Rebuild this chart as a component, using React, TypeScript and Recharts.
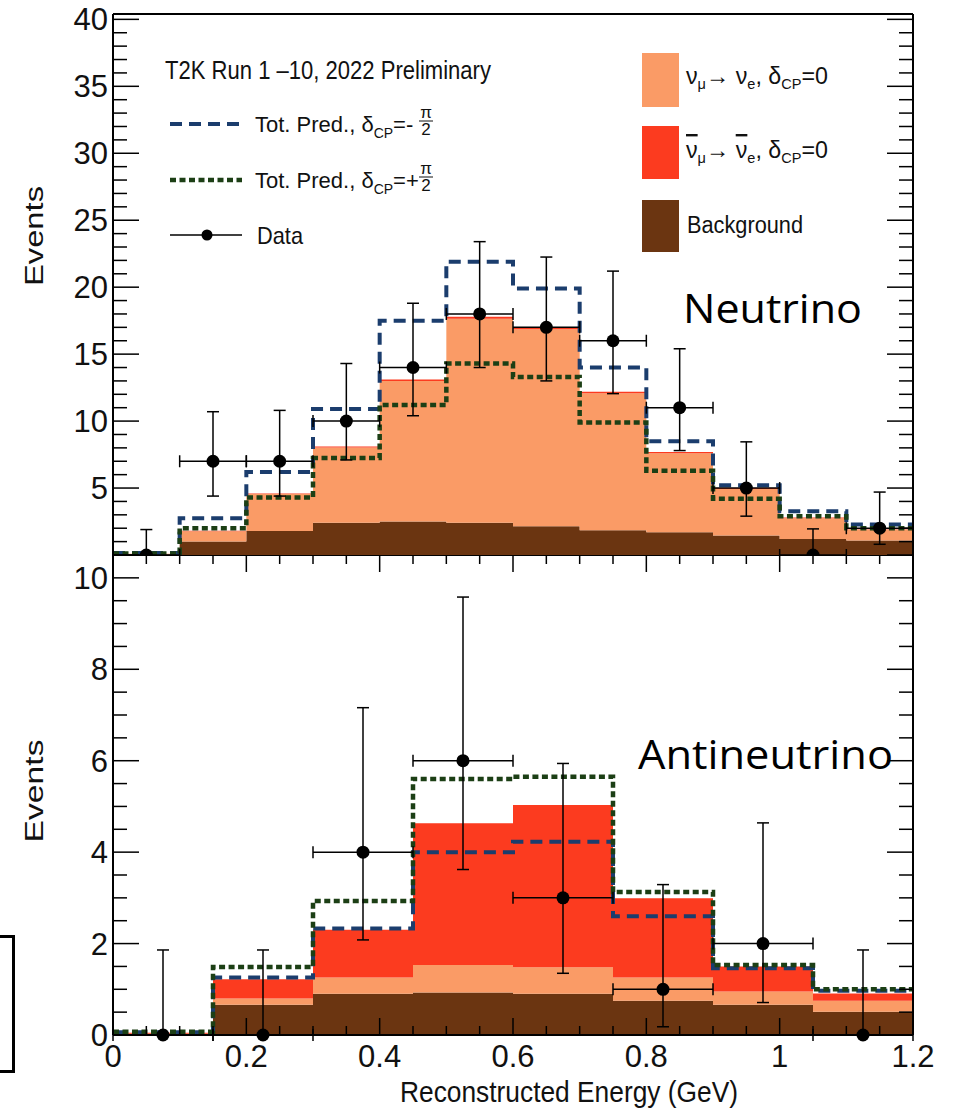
import {
  ComposedChart,
  Area,
  Line,
  Scatter,
  ErrorBar,
  XAxis,
  YAxis,
  ReferenceLine,
} from 'recharts';

const AXIS_FONT = '"Liberation Sans", Arial, Helvetica, sans-serif';
const SLIDE_FONT = '"Open Sans", "Noto Sans", sans-serif';

const COLOR_NUE = '#FA9B66';
const COLOR_NUEBAR = '#FC3B1F';
const COLOR_BKG = '#6B3511';
const COLOR_MINUS = '#1B3D6D';
const COLOR_PLUS = '#1C3F15';

// neutrino sample, 0.1 GeV bins
const NU_EDGES = [0, 0.1, 0.2, 0.3, 0.4, 0.5, 0.6, 0.7, 0.8, 0.9, 1.0, 1.1, 1.2];
const NU_CENTERS = [0.05, 0.15, 0.25, 0.35, 0.45, 0.55, 0.65, 0.75, 0.85, 0.95, 1.05, 1.15];
const NU_BKG = [0.05, 1.0, 1.8, 2.4, 2.5, 2.4, 2.15, 1.85, 1.7, 1.45, 1.2, 1.08];
const NU_NUE = [0.05, 0.78, 2.75, 5.62, 10.5, 15.25, 14.7, 10.23, 5.9, 3.47, 1.55, 0.78];
const NU_NUEBAR = [0, 0.03, 0.05, 0.08, 0.1, 0.15, 0.15, 0.12, 0.1, 0.08, 0.05, 0.04];
const NU_PRED_MINUS = [0.15, 2.75, 6.2, 10.9, 17.5, 21.9, 19.9, 14.0, 8.5, 5.2, 3.27, 2.27];
const NU_PRED_PLUS = [0.12, 2.0, 4.3, 7.25, 11.2, 14.3, 13.3, 9.9, 6.3, 4.2, 2.9, 2.0];
const NU_DATA = [0, 7, 7, 10, 14, 18, 17, 16, 11, 5, 0, 2];
const NU_DATA_HI = [1.9, 10.7, 10.8, 14.3, 18.8, 23.4, 22.25, 21.2, 15.4, 8.45, 1.95, 4.7];
const NU_DATA_LO = [0, 4.4, 4.4, 7.1, 10.4, 14.0, 13.0, 12.05, 7.8, 2.9, 0, 0.8];

// antineutrino sample, 0.15 GeV bins
const ANU_EDGES = [0, 0.15, 0.3, 0.45, 0.6, 0.75, 0.9, 1.05, 1.2];
const ANU_CENTERS = [0.075, 0.225, 0.375, 0.525, 0.675, 0.825, 0.975, 1.125];
const ANU_BKG = [0.02, 0.66, 0.9, 0.93, 0.9, 0.75, 0.66, 0.51];
const ANU_NUE = [0.01, 0.14, 0.36, 0.6, 0.58, 0.51, 0.29, 0.24];
const ANU_NUEBAR = [0.02, 0.42, 1.04, 3.1, 3.55, 1.73, 0.55, 0.16];
const ANU_PRED_MINUS = [0.06, 1.26, 2.33, 4.0, 4.23, 2.6, 1.46, 0.97];
const ANU_PRED_PLUS = [0.07, 1.49, 2.93, 5.6, 5.65, 3.13, 1.53, 1.0];
const ANU_DATA = [0, 0, 4, 6, 3, 1, 2, 0];
const ANU_DATA_HI = [1.86, 1.86, 7.16, 9.58, 5.94, 3.29, 4.64, 1.86];
const ANU_DATA_LO = [0, 0, 2.08, 3.62, 1.35, 0.18, 0.71, 0];

// axes
const X_TICKS = [
  0, 0.05, 0.1, 0.15, 0.2, 0.25, 0.3, 0.35, 0.4, 0.45, 0.5, 0.55, 0.6,
  0.65, 0.7, 0.75, 0.8, 0.85, 0.9, 0.95, 1.0, 1.05, 1.1, 1.15, 1.2,
];
const X_LABELS = ['0', '0.2', '0.4', '0.6', '0.8', '1', '1.2'];
const NU_Y_MAX = 40.4;
const NU_Y_LABELS = [5, 10, 15, 20, 25, 30, 35, 40];
const NU_Y_TICKS = Array.from({ length: 41 }, (_, i) => i);
const ANU_Y_MAX = 10.5;
const ANU_Y_LABELS = [0, 2, 4, 6, 8, 10];
const ANU_Y_TICKS = Array.from({ length: 21 }, (_, i) => i / 2);

const W = 965;
const PLOT_LEFT = 113;
const PLOT_RIGHT = 913;

const isMultiple = (v: number, step: number) =>
  Math.abs(v / step - Math.round(v / step)) < 1e-6;

function stepRows(edges: number[], series: Record<string, number[]>) {
  return edges.map((x, i) => {
    const k = Math.min(i, edges.length - 2);
    const row: Record<string, number> = { x };
    for (const key of Object.keys(series)) row[key] = series[key][k];
    return row;
  });
}

function pointRows(centers: number[], data: number[], hi: number[], lo: number[], half: number) {
  return centers.map((x, i) => ({
    x,
    y: data[i],
    ey: [data[i] - lo[i], hi[i] - data[i]],
    ex: half,
  }));
}

function xTick(plotTop: number, plotBottom: number, labels: boolean) {
  return (props: any) => {
    const x = props.x as number;
    const v = props.payload.value as number;
    const major = isMultiple(v, 0.2);
    const len = major ? 17 : 9;
    const label = X_LABELS[Math.round(v / 0.2)];
    return (
      <g>
        <line x1={x} x2={x} y1={plotBottom} y2={plotBottom - len} stroke="#000" strokeWidth={1.5} />
        <line x1={x} x2={x} y1={plotTop} y2={plotTop + len} stroke="#000" strokeWidth={1.5} />
        {labels && major && (
          <text x={x} y={plotBottom + 32} textAnchor="middle" fontSize={31} fontFamily={AXIS_FONT} fill="#111">
            {label}
          </text>
        )}
      </g>
    );
  };
}

function yTick(step: number, labels: number[]) {
  return (props: any) => {
    const y = props.y as number;
    const v = props.payload.value as number;
    const major = isMultiple(v, step);
    const len = major ? 26 : 14;
    return (
      <g>
        <line x1={PLOT_LEFT} x2={PLOT_LEFT + len} y1={y} y2={y} stroke="#000" strokeWidth={1.5} />
        <line x1={PLOT_RIGHT} x2={PLOT_RIGHT - len} y1={y} y2={y} stroke="#000" strokeWidth={1.5} />
        {labels.includes(v) && (
          <text x={PLOT_LEFT - 5} y={y + 11} textAnchor="end" fontSize={31} fontFamily={AXIS_FONT} fill="#111">
            {v}
          </text>
        )}
      </g>
    );
  };
}

const dot = (p: any) => <circle cx={p.cx} cy={p.cy} r={6.5} fill="#000" />;

interface PanelProps {
  height: number;
  plotTop: number;
  plotBottom: number;
  xAxisHeight: number;
  yMax: number;
  yTicks: number[];
  yStep: number;
  yLabels: number[];
  showXLabels: boolean;
  steps: Record<string, number>[];
  points: { x: number; y: number; ey: number[]; ex: number }[];
}

function Panel(p: PanelProps) {
  return (
    <ComposedChart
      width={W}
      height={p.height}
      data={p.steps}
      margin={{ top: p.plotTop, right: W - PLOT_RIGHT, bottom: 0, left: 0 }}
    >
      <XAxis
        dataKey="x"
        type="number"
        domain={[0, 1.2]}
        ticks={X_TICKS}
        interval={0}
        height={p.xAxisHeight}
        tickLine={false}
        axisLine={{ stroke: '#000', strokeWidth: 2 }}
        tick={xTick(p.plotTop, p.plotBottom, p.showXLabels)}
      />
      <YAxis
        type="number"
        domain={[0, p.yMax]}
        ticks={p.yTicks}
        interval={0}
        width={PLOT_LEFT}
        tickLine={false}
        axisLine={{ stroke: '#000', strokeWidth: 2 }}
        tick={yTick(p.yStep, p.yLabels)}
      />
      <Area type="stepAfter" dataKey="bkg" stackId="s" stroke="none" fill={COLOR_BKG} fillOpacity={1} isAnimationActive={false} />
      <Area type="stepAfter" dataKey="nue" stackId="s" stroke="none" fill={COLOR_NUE} fillOpacity={1} isAnimationActive={false} />
      <Area type="stepAfter" dataKey="nuebar" stackId="s" stroke="none" fill={COLOR_NUEBAR} fillOpacity={1} isAnimationActive={false} />
      <Line type="stepAfter" dataKey="minus" stroke={COLOR_MINUS} strokeWidth={4} strokeDasharray="12 7" dot={false} isAnimationActive={false} />
      <Line type="stepAfter" dataKey="plus" stroke={COLOR_PLUS} strokeWidth={4.5} strokeDasharray="6 3.5" dot={false} isAnimationActive={false} />
      <ReferenceLine y={p.yMax} stroke="#000" strokeWidth={2} />
      <ReferenceLine x={1.2} stroke="#000" strokeWidth={2} />
      <Scatter data={p.points} dataKey="y" shape={dot} isAnimationActive={false}>
        <ErrorBar dataKey="ey" direction="y" width={6} stroke="#000" strokeWidth={1.5} isAnimationActive={false} />
        <ErrorBar dataKey="ex" direction="x" width={6} stroke="#000" strokeWidth={1.5} isAnimationActive={false} />
      </Scatter>
    </ComposedChart>
  );
}

function Fraction({ x, y }: { x: number; y: number }) {
  return (
    <g fontFamily={AXIS_FONT} fontSize={17} fill="#111">
      <text x={x} y={y - 4} textAnchor="middle">π</text>
      <line x1={x - 7} x2={x + 7} y1={y - 1} y2={y - 1} stroke="#111" strokeWidth={1} />
      <text x={x} y={y + 13} textAnchor="middle">2</text>
    </g>
  );
}

function PredEntry({ y, sign }: { y: number; sign: string }) {
  return (
    <g fontFamily={AXIS_FONT} fill="#111">
      <text x={255} y={y} fontSize={22}>
        Tot. Pred., δ<tspan fontSize={14} dy={6}>CP</tspan>
        <tspan dy={-6}>{'=' + sign}</tspan>
      </text>
      <Fraction x={426} y={y - 10} />
    </g>
  );
}

function Overlay() {
  const sub = { fontSize: 15 };
  return (
    <svg width={W} height={1110} style={{ position: 'absolute', left: 0, top: 0, pointerEvents: 'none' }}>
      <g fontFamily={AXIS_FONT} fill="#111">
        <text x={165} y={79} fontSize={25} textLength={326} lengthAdjust="spacingAndGlyphs">
          T2K Run 1 –10, 2022 Preliminary
        </text>
      </g>
      <line x1={170} x2={242} y1={124} y2={124} stroke={COLOR_MINUS} strokeWidth={4} strokeDasharray="12 7" />
      <PredEntry y={132} sign="-" />
      <line x1={170} x2={242} y1={180} y2={180} stroke={COLOR_PLUS} strokeWidth={4.5} strokeDasharray="6 3.5" />
      <PredEntry y={188} sign="+" />
      <line x1={170} x2={242} y1={235} y2={235} stroke="#000" strokeWidth={1.5} />
      <circle cx={207} cy={235} r={5.5} fill="#000" />
      <text x={257} y={244} fontSize={24} fontFamily={AXIS_FONT} fill="#111" textLength={46} lengthAdjust="spacingAndGlyphs">
        Data
      </text>

      <rect x={642} y={53} width={37} height={54} fill={COLOR_NUE} />
      <rect x={642} y={126} width={37} height={53} fill={COLOR_NUEBAR} />
      <rect x={642} y={200} width={37} height={52} fill={COLOR_BKG} />
      <text x={686} y={84} fontSize={24} fontFamily={AXIS_FONT} fill="#111" textLength={142} lengthAdjust="spacingAndGlyphs">
        ν<tspan {...sub} dy={5}>μ</tspan>
        <tspan dy={-5}>→ ν</tspan>
        <tspan {...sub} dy={5}>e</tspan>
        <tspan dy={-5}>, δ</tspan>
        <tspan {...sub} dy={5}>CP</tspan>
        <tspan dy={-5}>=0</tspan>
      </text>
      <text x={686} y={158} fontSize={24} fontFamily={AXIS_FONT} fill="#111" textLength={142} lengthAdjust="spacingAndGlyphs">
        <tspan style={{ textDecoration: 'overline' }}>ν</tspan>
        <tspan {...sub} dy={5}>μ</tspan>
        <tspan dy={-5}>→ </tspan>
        <tspan style={{ textDecoration: 'overline' }}>ν</tspan>
        <tspan {...sub} dy={5}>e</tspan>
        <tspan dy={-5}>, δ</tspan>
        <tspan {...sub} dy={5}>CP</tspan>
        <tspan dy={-5}>=0</tspan>
      </text>
      <text x={687} y={233} fontSize={23} fontFamily={AXIS_FONT} fill="#111" textLength={116} lengthAdjust="spacingAndGlyphs">
        Background
      </text>

      <text transform="translate(43,236) rotate(-90)" textAnchor="middle" fontSize={25} fontFamily={AXIS_FONT} fill="#111" textLength={100} lengthAdjust="spacingAndGlyphs">
        Events
      </text>
      <text transform="translate(43,791) rotate(-90)" textAnchor="middle" fontSize={25} fontFamily={AXIS_FONT} fill="#111" textLength={103} lengthAdjust="spacingAndGlyphs">
        Events
      </text>
      <text x={400} y={1102} fontSize={29} fontFamily={AXIS_FONT} fill="#111" textLength={338} lengthAdjust="spacingAndGlyphs">
        Reconstructed Energy (GeV)
      </text>

      <text x={683} y={323} fontSize={40} fontFamily={SLIDE_FONT} fill="#000" textLength={179} lengthAdjust="spacingAndGlyphs">
        Neutrino
      </text>
      <text x={638} y={769} fontSize={40} fontFamily={SLIDE_FONT} fill="#000" textLength={255} lengthAdjust="spacingAndGlyphs">
        Antineutrino
      </text>
    </svg>
  );
}

export default function App() {
  const nuSteps = stepRows(NU_EDGES, {
    bkg: NU_BKG,
    nue: NU_NUE,
    nuebar: NU_NUEBAR,
    minus: NU_PRED_MINUS,
    plus: NU_PRED_PLUS,
  });
  const anuSteps = stepRows(ANU_EDGES, {
    bkg: ANU_BKG,
    nue: ANU_NUE,
    nuebar: ANU_NUEBAR,
    minus: ANU_PRED_MINUS,
    plus: ANU_PRED_PLUS,
  });
  const nuPoints = pointRows(NU_CENTERS, NU_DATA, NU_DATA_HI, NU_DATA_LO, 0.05);
  const anuPoints = pointRows(ANU_CENTERS, ANU_DATA, ANU_DATA_HI, ANU_DATA_LO, 0.075);

  return (
    <div style={{ position: 'absolute', left: 0, top: 0, width: W, height: 1110, background: '#fff', overflow: 'hidden' }}>
      <div style={{ position: 'absolute', left: 0, top: 0 }}>
        <Panel
          height={555}
          plotTop={14}
          plotBottom={555}
          xAxisHeight={0}
          yMax={NU_Y_MAX}
          yTicks={NU_Y_TICKS}
          yStep={5}
          yLabels={NU_Y_LABELS}
          showXLabels={false}
          steps={nuSteps}
          points={nuPoints}
        />
      </div>
      <div style={{ position: 'absolute', left: 0, top: 555 }}>
        <Panel
          height={555}
          plotTop={0}
          plotBottom={480}
          xAxisHeight={75}
          yMax={ANU_Y_MAX}
          yTicks={ANU_Y_TICKS}
          yStep={2}
          yLabels={ANU_Y_LABELS}
          showXLabels={true}
          steps={anuSteps}
          points={anuPoints}
        />
      </div>
      <Overlay />
      <div
        style={{
          position: 'absolute',
          left: -20,
          top: 935,
          width: 35,
          height: 138,
          border: '3px solid #000',
          boxSizing: 'border-box',
        }}
      />
    </div>
  );
}
